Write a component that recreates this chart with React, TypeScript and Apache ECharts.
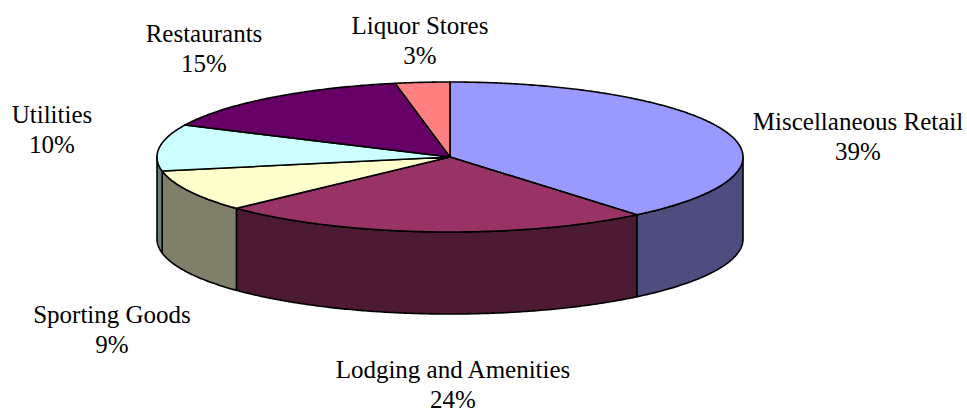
import React, { useEffect, useRef } from "react";
import * as echarts from "echarts";

const CATEGORIES = [
  "Miscellaneous Retail",
  "Lodging and Amenities",
  "Sporting Goods",
  "Utilities",
  "Restaurants",
  "Liquor Stores",
];
const VALUES = [39, 24, 9, 10, 15, 3];

const TOP_COLORS = ["#9999FF", "#993366", "#FFFFCC", "#CCFFFF", "#660066", "#FF8080"];
const SIDE_COLORS = ["#4D4D80", "#4D1A33", "#80806A", "#668080", "#330033", "#804040"];

// layout (pixels)
const CX = 450;
const CY = 157;
const RX = 293;
const RY = 75;
const DEPTH = 82;
const LABEL_POS: number[][] = [
  [858, 136],
  [453, 384],
  [112, 329],
  [52, 129],
  [204, 48],
  [420, 40],
];
const FONT = "'Liberation Serif', 'Times New Roman', serif";

function pt(deg: number, dy = 0): number[] {
  const r = (deg * Math.PI) / 180;
  return [CX + RX * Math.sin(r), CY + dy - RY * Math.cos(r)];
}

function arc(a: number, b: number, dy = 0): number[][] {
  const n = Math.max(2, Math.ceil((b - a) / 0.5));
  const out: number[][] = [];
  for (let k = 0; k <= n; k++) out.push(pt(a + ((b - a) * k) / n, dy));
  return out;
}

export default function App() {
  const ref = useRef<HTMLDivElement>(null);
  useEffect(() => {
    if (!ref.current) return;
    const chart = echarts.init(ref.current, undefined, { renderer: "svg" });
    const total = VALUES.reduce((s, v) => s + v, 0);
    chart.setOption({
      animation: false,
      backgroundColor: "#ffffff",
      series: [
        {
          type: "custom",
          coordinateSystem: "none",
          data: VALUES.map((v, i) => ({ value: v, name: CATEGORIES[i] })),
          renderItem: (params: any, api: any) => {
            const i = params.dataIndex;
            let start = 0;
            for (let j = 0; j < i; j++) start += VALUES[j];
            const v = api.value(0) as number;
            const a = (start / total) * 360;
            const b = ((start + v) / total) * 360;
            const children: any[] = [];
            const s = Math.max(a, 90);
            const e = Math.min(b, 270);
            if (s < e) {
              const topArc = arc(s, e, 0);
              const botArc = arc(s, e, DEPTH).reverse();
              children.push({
                type: "polygon",
                shape: { points: topArc.concat(botArc) },
                style: {
                  fill: SIDE_COLORS[i],
                  stroke: "#000",
                  lineWidth: 1.6,
                  lineJoin: "round",
                },
              });
            }
            children.push({
              type: "polygon",
              shape: { points: [[CX, CY]].concat(arc(a, b, 0)) },
              style: {
                fill: TOP_COLORS[i],
                stroke: "#000",
                lineWidth: 1.6,
                lineJoin: "round",
              },
            });
            const lp = LABEL_POS[i];
            children.push({
              type: "text",
              style: {
                text: CATEGORIES[i] + "\n" + Math.round((v / total) * 100) + "%",
                x: lp[0],
                y: lp[1],
                align: "center",
                verticalAlign: "middle",
                fontSize: 25,
                fontFamily: FONT,
                lineHeight: 30,
                fill: "#000",
              },
            });
            return { type: "group", children };
          },
        },
      ],
    });
    return () => chart.dispose();
  }, []);
  return (
    <div
      ref={ref}
      style={{ position: "fixed", left: 0, top: 0, width: 967, height: 412 }}
    />
  );
}
